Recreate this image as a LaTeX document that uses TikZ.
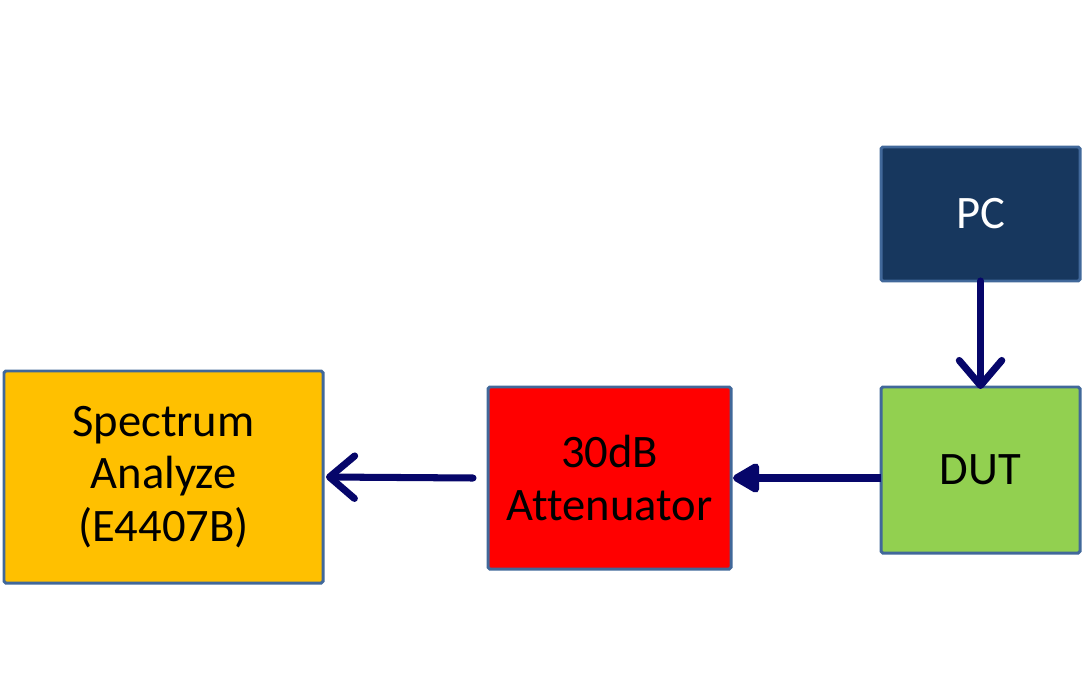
\documentclass[tikz,border=0pt]{standalone}
\usepackage{fontspec}
\setmainfont{Carlito}[Ligatures=NoCommon]
\usetikzlibrary{arrows.meta, positioning}
\definecolor{pcnavy}{HTML}{17375E}
\definecolor{edgeblue}{HTML}{41689A}
\definecolor{dutgreen}{HTML}{92D050}
\definecolor{attred}{HTML}{FF0000}
\definecolor{specgold}{HTML}{FFC000}
\definecolor{arrnavy}{HTML}{06066A}
\tikzset{
	blk/.style={draw=edgeblue, line width=1.7pt, rounded corners=1pt,
		align=center, inner sep=0pt, outer sep=0pt,
		font=\fontsize{26.5pt}{30pt}\selectfont},
	barr/.style={-{Straight Barb[length=5mm, width=8.5mm, round]}, line width=4pt, draw=arrnavy, line cap=round},
	tarr/.style={-{Triangle[length=6mm, width=6.5mm, round]}, line width=4pt, draw=arrnavy}
}

\begin{document}
\begin{tikzpicture}[node distance=2.12cm]
	\useasboundingbox (0,0) rectangle (21.72,13.82);
	\node[blk, fill=pcnavy, text=white, minimum width=3.98cm, minimum height=2.68cm] (pc) at (19.61,9.54) {PC};
	\node[blk, fill=dutgreen, minimum width=3.98cm, minimum height=3.32cm, below=of pc] (dut) {DUT};
	\node[blk, fill=attred, minimum width=4.86cm, minimum height=3.64cm] (atten) at (12.19,4.26) {30dB\\Attenuator};
	\node[blk, fill=specgold, minimum width=6.38cm, minimum height=4.24cm] (spec) at (3.27,4.28) {Spectrum\\Analyze\\(E4407B)};
	\draw[barr] (pc.south) -- ([yshift=-0.04cm]dut.north);
	\draw[tarr] (dut.west |- atten.east) -- ([xshift=0.04cm]atten.east);
	\draw[barr] ([xshift=-0.3cm]atten.west) -- ([xshift=0.06cm]spec.east);
\end{tikzpicture}
\end{document}
